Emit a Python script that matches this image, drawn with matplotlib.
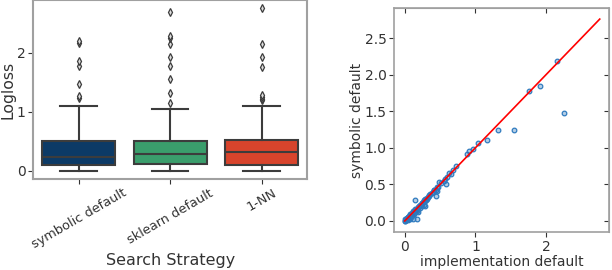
import matplotlib
matplotlib.use("Agg")
import matplotlib.pyplot as plt
import numpy as np

# box plot summaries
strategies = ["symbolic default", "sklearn default", "1-NN"]
box_colors = ["#0c3a66", "#3a9e6c", "#d8442c"]
q1 = [0.09, 0.11, 0.09]
med = [0.24, 0.29, 0.31]
q3 = [0.50, 0.50, 0.52]
whis_lo = [0.0, 0.0, 0.0]
whis_hi = [1.10, 1.04, 1.10]
fliers = [
    [1.23, 1.26, 1.47, 1.78, 1.85, 2.16, 2.19],
    [1.15, 1.32, 1.55, 1.78, 1.92, 2.15, 2.24, 2.28, 2.68],
    [1.20, 1.22, 1.25, 1.29, 1.75, 1.92, 2.15, 2.76],
]

# scatter: implementation default (x) vs symbolic default (y)
impl_default = [0.0, 0.01, 0.01, 0.02, 0.02, 0.03, 0.03, 0.04, 0.04, 0.05,
                0.05, 0.06, 0.06, 0.07, 0.07, 0.08, 0.08, 0.09, 0.10, 0.10,
                0.11, 0.12, 0.12, 0.13, 0.14, 0.15, 0.15, 0.16, 0.17, 0.18,
                0.19, 0.20, 0.21, 0.22, 0.23, 0.24, 0.25, 0.26, 0.27, 0.28,
                0.29, 0.30, 0.31, 0.33, 0.34, 0.35, 0.36, 0.38, 0.40, 0.41,
                0.42, 0.44, 0.45, 0.47, 0.49, 0.52, 0.55, 0.57, 0.60, 0.63,
                0.65, 0.68, 0.73, 0.14, 0.17, 0.12, 0.19, 0.29, 0.44, 0.58,
                0.88, 0.91, 0.97, 1.03, 1.16, 1.32, 1.55, 1.76, 1.91, 2.15,
                2.26, 0.04, 0.08, 0.22, 0.32, 0.46, 0.02, 0.05, 0.09, 0.13,
                0.18, 0.24, 0.27, 0.06, 0.11]
sym_default = [0.0, 0.0, 0.02, 0.01, 0.03, 0.02, 0.04, 0.03, 0.05, 0.04,
               0.06, 0.05, 0.07, 0.06, 0.08, 0.07, 0.09, 0.09, 0.09, 0.11,
               0.10, 0.11, 0.13, 0.14, 0.13, 0.14, 0.16, 0.15, 0.17, 0.17,
               0.19, 0.20, 0.20, 0.22, 0.22, 0.24, 0.25, 0.26, 0.28, 0.27,
               0.30, 0.29, 0.32, 0.33, 0.35, 0.34, 0.37, 0.38, 0.40, 0.42,
               0.42, 0.43, 0.46, 0.47, 0.53, 0.52, 0.55, 0.58, 0.60, 0.66,
               0.64, 0.69, 0.75, 0.29, 0.03, 0.02, 0.12, 0.20, 0.34, 0.50,
               0.92, 0.95, 0.99, 1.06, 1.10, 1.25, 1.25, 1.78, 1.84, 2.18,
               1.48, 0.01, 0.02, 0.18, 0.30, 0.41, 0.03, 0.03, 0.06, 0.10,
               0.14, 0.21, 0.22, 0.04, 0.08]

text_c = "#333333"
plt.rcParams["font.family"] = "DejaVu Sans"
plt.rcParams["text.color"] = text_c
plt.rcParams["axes.labelcolor"] = text_c
plt.rcParams["xtick.color"] = text_c
plt.rcParams["ytick.color"] = text_c

fig = plt.figure(figsize=(6.12, 2.70), dpi=100)

# ---- left: box plots
ax = fig.add_axes([0.054, 0.337, 0.448, 0.663])
stats = []
for i in range(len(strategies)):
    stats.append(dict(q1=q1[i], med=med[i], q3=q3[i], whislo=whis_lo[i],
                      whishi=whis_hi[i], fliers=fliers[i], label=strategies[i]))
edge = "#3c3c3c"
bp = ax.bxp(stats, positions=range(3), widths=0.8, patch_artist=True,
            boxprops=dict(edgecolor=edge, linewidth=1.5),
            medianprops=dict(color=edge, linewidth=1.5),
            whiskerprops=dict(color=edge, linewidth=1.5),
            capprops=dict(color=edge, linewidth=1.5),
            capwidths=0.4,
            flierprops=dict(marker="d", markersize=4, markerfacecolor="#dddddd",
                            markeredgecolor=edge, markeredgewidth=0.9))
for patch, c in zip(bp["boxes"], box_colors):
    patch.set_facecolor(c)
ax.set_xlim(-0.5, 2.5)
ax.set_ylim(-0.14, 2.89)
ax.set_yticks([0, 1, 2])
ax.set_xticks(range(3))
ax.set_xticklabels(strategies, rotation=30, fontsize=9.3)
ax.tick_params(axis="y", labelsize=10, pad=2)
ax.tick_params(axis="x", pad=2)
ax.set_ylabel("Logloss", fontsize=11.3, labelpad=1)
ax.set_xlabel("Search Strategy", fontsize=11.5, labelpad=1)
for s in ax.spines.values():
    s.set_color("#a0a0a0")
    s.set_linewidth(1.5)

# ---- right: scatter
ax2 = fig.add_axes([0.644, 0.141, 0.351, 0.829])
ax2.scatter(impl_default, sym_default, s=11, facecolors=(0.17, 0.45, 0.73, 0.35),
            edgecolors="#2f7bbf", linewidths=0.9, zorder=2)
# identity line up to the largest logloss seen
hi = max(max(f) for f in fliers)
ax2.plot([0, hi], [0, hi], color="red", linewidth=1.2, zorder=3)
ax2.set_xlim(-0.15, 2.89)
ax2.set_ylim(-0.15, 2.91)
ax2.set_xticks([0, 1, 2])
ax2.set_yticks([0, 0.5, 1.0, 1.5, 2.0, 2.5])
ax2.set_yticklabels(["0.0", "0.5", "1.0", "1.5", "2.0", "2.5"])
ax2.tick_params(labelsize=10, pad=2)
ax2.set_xlabel("implementation default", fontsize=10, labelpad=1)
ax2.set_ylabel("symbolic default", fontsize=10, labelpad=0)
for s in ax2.spines.values():
    s.set_color("#a0a0a0")
    s.set_linewidth(1.2)
sec_y = ax2.secondary_yaxis("right")
sec_y.set_yticks([0, 0.5, 1.0, 1.5, 2.0, 2.5])
sec_y.tick_params(direction="in", labelright=False)
sec_y.spines["right"].set_color("#a0a0a0")
sec_x = ax2.secondary_xaxis("top")
sec_x.set_xticks([0, 1, 2])
sec_x.tick_params(direction="in", labeltop=False)
sec_x.spines["top"].set_color("#a0a0a0")

fig.savefig("out.png", dpi=100)
